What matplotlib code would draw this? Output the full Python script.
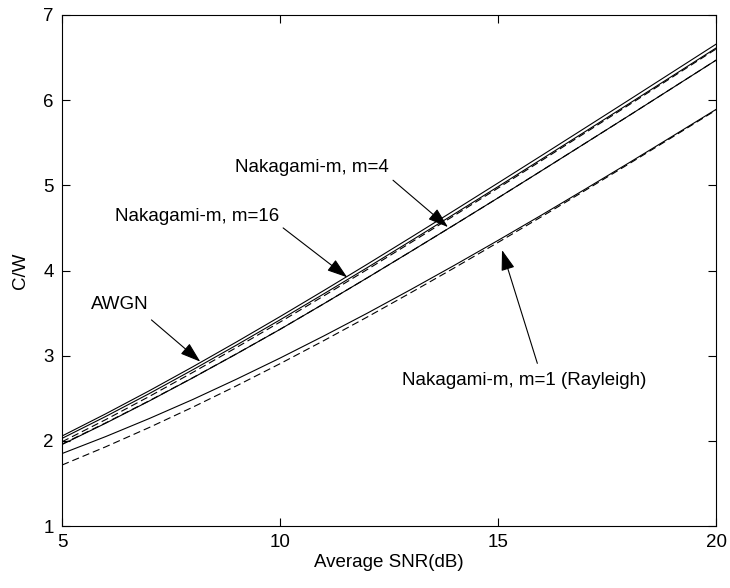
import matplotlib
matplotlib.use('Agg')
import matplotlib.pyplot as plt

# average SNR in dB
snr_db = [5, 6, 7, 8, 9, 10, 11, 12, 13, 14, 15, 16, 17, 18, 19, 20]

# capacity per unit bandwidth
awgn = [2.057, 2.317, 2.588, 2.870, 3.161, 3.459, 3.764, 4.074,
        4.389, 4.707, 5.028, 5.351, 5.676, 6.002, 6.330, 6.658]
m16_solid = [2.029, 2.286, 2.555, 2.835, 3.124, 3.421, 3.725, 4.034,
             4.348, 4.665, 4.985, 5.308, 5.632, 5.958, 6.285, 6.613]
m16_dash = [1.989, 2.249, 2.521, 2.804, 3.096, 3.395, 3.701, 4.012,
            4.328, 4.647, 4.968, 5.292, 5.617, 5.944, 6.272, 6.601]
m4_solid = [1.957, 2.207, 2.468, 2.740, 3.021, 3.309, 3.609, 3.914,
            4.224, 4.537, 4.853, 5.173, 5.495, 5.818, 6.144, 6.470]
m4_dash = [1.962, 2.211, 2.471, 2.742, 3.022, 3.310, 3.609, 3.914,
           4.224, 4.537, 4.853, 5.173, 5.495, 5.818, 6.144, 6.470]
m1_solid = [1.851, 2.050, 2.262, 2.486, 2.724, 2.972, 3.231, 3.499,
            3.777, 4.062, 4.354, 4.652, 4.956, 5.264, 5.577, 5.892]
m1_dash = [1.716, 1.930, 2.157, 2.396, 2.646, 2.906, 3.176, 3.454,
           3.740, 4.032, 4.330, 4.633, 4.941, 5.252, 5.567, 5.884]

plt.rcParams['font.family'] = ['Liberation Sans', 'DejaVu Sans']
fs = 13.5

fig = plt.figure(figsize=(7.3, 5.88), dpi=100)
ax = fig.add_axes([0.085, 0.1054, 0.896, 0.8691])

lw = 0.8
dash = (6.5, 3.5)
ax.plot(snr_db, awgn, 'k-', lw=lw)
ax.plot(snr_db, m16_solid, 'k-', lw=lw)
ax.plot(snr_db, m16_dash, 'k--', lw=lw, dashes=dash)
ax.plot(snr_db, m4_solid, 'k-', lw=lw)
ax.plot(snr_db, m4_dash, 'k--', lw=lw, dashes=dash)
ax.plot(snr_db, m1_solid, 'k-', lw=lw)
ax.plot(snr_db, m1_dash, 'k--', lw=lw, dashes=dash)

ax.set_xlim(5, 20)
ax.set_ylim(1, 7)
ax.set_xticks([5, 10, 15, 20])
ax.set_yticks([1, 2, 3, 4, 5, 6, 7])
ax.tick_params(direction='in', top=True, right=True, length=6,
               width=0.8, labelsize=fs, pad=6)
for sp in ax.spines.values():
    sp.set_linewidth(0.8)
ax.set_xlabel('Average SNR(dB)', fontsize=fs, labelpad=2)
ax.set_ylabel('C/W', fontsize=fs, labelpad=10)

arr = dict(arrowstyle='-|>,head_length=0.9,head_width=0.3', color='k',
           lw=0.8, shrinkA=0, shrinkB=0, mutation_scale=14)

# labels and their arrows
ax.text(10.73, 5.21, 'Nakagami-m, m=4', fontsize=fs, ha='center', va='center')
ax.annotate('', xy=(13.85, 4.51), xytext=(12.59, 5.06), arrowprops=arr)
ax.text(8.10, 4.63, 'Nakagami-m, m=16', fontsize=fs, ha='center', va='center')
ax.annotate('', xy=(11.54, 3.92), xytext=(10.07, 4.50), arrowprops=arr)
ax.text(6.33, 3.6, 'AWGN', fontsize=fs, ha='center', va='center')
ax.annotate('', xy=(8.17, 2.93), xytext=(7.05, 3.42), arrowprops=arr)
ax.text(15.6, 2.71, 'Nakagami-m, m=1 (Rayleigh)', fontsize=fs,
        ha='center', va='center')
ax.annotate('', xy=(15.09, 4.24), xytext=(15.9, 2.91), arrowprops=arr)

fig.savefig('out.png', dpi=100)
